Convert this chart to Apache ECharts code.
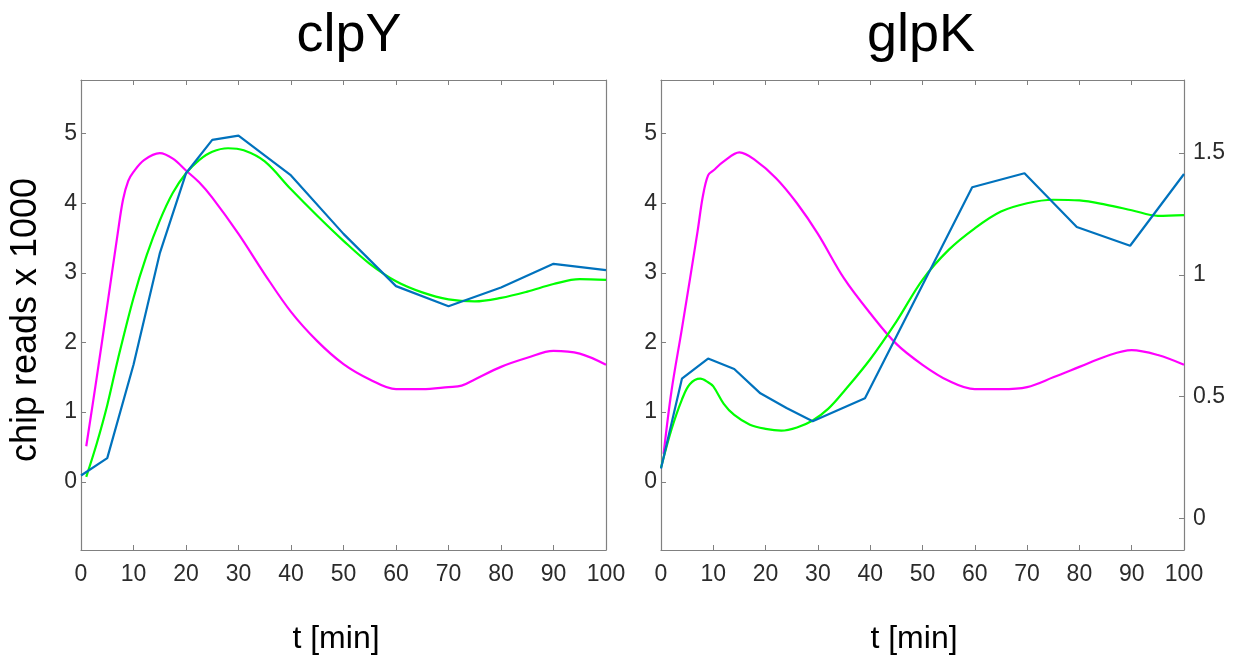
<!DOCTYPE html>
<html>
<head>
<meta charset="utf-8">
<script src="https://cdn.jsdelivr.net/npm/echarts@6/dist/echarts.min.js"></script>
<style>
  html, body { margin: 0; padding: 0; background: #fff; }
  #chart { width: 1234px; height: 657px; }
</style>
</head>
<body>
<div id="chart"></div>
<script>
// Panel titles and axis text
const panelTitles = ['clpY', 'glpK'];
const xAxisTitle = 't [min]';
const yAxisTitle = 'chip reads x 1000';
const leftTickValues = [0, 1, 2, 3, 4, 5];
const rightTickValues = [0, 0.5, 1, 1.5];

// clpY: measured profile (blue), fitted model (green), reference input (magenta)
const clpYBlueT = [0, 5, 10, 15, 20, 25, 30, 40, 50, 60, 70, 80, 90, 100];
const clpYBlueV = [0.09, 0.34, 1.68, 3.28, 4.43, 4.91, 4.97, 4.40, 3.56, 2.81, 2.52, 2.79, 3.13, 3.04];

const clpYGreenT = [1, 3, 5, 7, 10, 12.5, 15, 17.5, 20, 22.5, 25, 28, 31, 35, 40, 45, 50, 55, 60, 65, 70, 75, 80, 85, 90, 95, 100];
const clpYGreenV = [0.07, 0.55, 1.1, 1.75, 2.64, 3.25, 3.75, 4.15, 4.43, 4.62, 4.74, 4.79, 4.76, 4.6, 4.2, 3.82, 3.46, 3.13, 2.88, 2.72, 2.62, 2.59, 2.64, 2.73, 2.84, 2.91, 2.9];

const clpYMagT = [1, 3, 5, 7, 8, 9, 10, 12, 15, 17.5, 20, 22.5, 25, 30, 35, 40, 45, 50, 55, 60, 65, 70, 72.5, 75, 80, 85, 90, 95, 100];
const clpYMagV = [0.51, 1.5, 2.53, 3.57, 4.05, 4.32, 4.45, 4.62, 4.72, 4.64, 4.47, 4.3, 4.08, 3.56, 2.98, 2.44, 2.02, 1.69, 1.47, 1.33, 1.33, 1.36, 1.38, 1.47, 1.65, 1.78, 1.88, 1.84, 1.68];

// glpK: same three traces
const glpKBlueT = [0, 4, 9, 14, 19, 24, 29, 39, 59.5, 69.5, 79.5, 89.7, 100];
const glpKBlueV = [0.19, 1.48, 1.77, 1.62, 1.27, 1.06, 0.87, 1.2, 4.23, 4.43, 3.66, 3.39, 4.42];

const glpKGreenT = [0, 2, 4, 5.5, 7.5, 9, 10, 12, 14, 17, 20, 23, 26, 29, 32, 35, 40, 45, 50, 55, 60, 65, 70, 75, 80, 85, 90, 95, 100];
const glpKGreenV = [0.2, 0.75, 1.18, 1.4, 1.48, 1.43, 1.37, 1.12, 0.96, 0.82, 0.76, 0.735, 0.78, 0.88, 1.05, 1.3, 1.76, 2.3, 2.9, 3.33, 3.64, 3.88, 4.0, 4.05, 4.04, 3.98, 3.9, 3.82, 3.83];

const glpKMagT = [0.5, 2, 4, 7, 8, 9, 10, 12, 15, 18, 22, 26, 30, 35, 40, 45, 50, 55, 60, 65, 70, 75, 80, 85, 90, 95, 100];
const glpKMagV = [0.4, 1.3, 2.2, 3.6, 4.1, 4.4, 4.47, 4.6, 4.73, 4.62, 4.36, 4.0, 3.56, 2.92, 2.42, 1.98, 1.68, 1.45, 1.33, 1.33, 1.36, 1.5, 1.65, 1.8, 1.89, 1.82, 1.68];

const BLUE = '#0072BD';
const GREEN = '#00FF00';
const MAGENTA = '#FF00FF';
const FRAME = '#808080';
const TEXT = '#2b2b2b';
const FONT = '"Liberation Sans", Arial, Helvetica, sans-serif';

const pairs = (t, v) => t.map((x, i) => [x, v[i]]);

const grids = [
  { left: 81, top: 80, width: 525, height: 470 },
  { left: 661, top: 80, width: 523, height: 470 }
];

const tickStyle = { inside: true, length: 5, lineStyle: { color: FRAME, width: 1 } };
const frameLine = { show: true, onZero: false, lineStyle: { color: FRAME, width: 1.2 } };

function xAxes(gi) {
  return [
    {
      type: 'value', gridIndex: gi, position: 'bottom', min: 0, max: 100, interval: 10,
      axisLine: frameLine, axisTick: tickStyle, splitLine: { show: false },
      axisLabel: { color: TEXT, fontSize: 23, fontFamily: FONT, margin: 13 }
    },
    {
      type: 'value', gridIndex: gi, position: 'top', min: 0, max: 100, interval: 10,
      axisLine: frameLine, axisTick: tickStyle, splitLine: { show: false },
      axisLabel: { show: false }
    }
  ];
}

function leftY(gi) {
  return {
    type: 'value', gridIndex: gi, position: 'left', min: -0.98, max: 5.77,
    axisLine: frameLine,
    axisTick: Object.assign({ customValues: leftTickValues }, tickStyle),
    splitLine: { show: false },
    axisLabel: { customValues: leftTickValues, color: TEXT, fontSize: 23, fontFamily: FONT, margin: 4 }
  };
}

const yAxes = [
  leftY(0),
  {
    type: 'value', gridIndex: 0, position: 'right', min: -0.98, max: 5.77,
    axisLine: frameLine, axisTick: { show: false }, axisLabel: { show: false },
    splitLine: { show: false }
  },
  leftY(1),
  {
    type: 'value', gridIndex: 1, position: 'right', min: -0.13, max: 1.8,
    axisLine: frameLine,
    axisTick: Object.assign({ customValues: rightTickValues }, tickStyle),
    splitLine: { show: false },
    axisLabel: { customValues: rightTickValues, color: TEXT, fontSize: 23, fontFamily: FONT, margin: 9 }
  }
];

function line(name, t, v, color, gi, smooth) {
  return {
    name, type: 'line', xAxisIndex: gi * 2, yAxisIndex: gi * 2,
    data: pairs(t, v), showSymbol: false, smooth: smooth ? 0.35 : false,
    lineStyle: { color, width: 2.2 }, itemStyle: { color }, z: 3, animation: false
  };
}

const series = [
  line('clpY input', clpYMagT, clpYMagV, MAGENTA, 0, true),
  line('clpY model', clpYGreenT, clpYGreenV, GREEN, 0, true),
  line('clpY data', clpYBlueT, clpYBlueV, BLUE, 0, false),
  line('glpK input', glpKMagT, glpKMagV, MAGENTA, 1, true),
  line('glpK model', glpKGreenT, glpKGreenV, GREEN, 1, true),
  line('glpK data', glpKBlueT, glpKBlueV, BLUE, 1, false)
];

function label(text, x, y, size, rotation) {
  return {
    type: 'text', x, y, rotation: rotation || 0, silent: true,
    style: { text, fill: '#000', font: size + 'px ' + FONT, align: 'center', verticalAlign: 'middle' }
  };
}

const graphic = [
  label(panelTitles[0], 349, 36, 54),
  label(panelTitles[1], 921, 36, 54),
  label(xAxisTitle, 336, 639, 32),
  label(xAxisTitle, 914, 639, 32),
  label(yAxisTitle, 26, 320, 36, Math.PI / 2)
];

const chart = echarts.init(document.getElementById('chart'), null, { renderer: 'canvas' });
chart.setOption({
  animation: false,
  backgroundColor: '#fff',
  grid: grids,
  xAxis: [...xAxes(0), ...xAxes(1)],
  yAxis: yAxes,
  series,
  graphic
});
</script>
</body>
</html>
